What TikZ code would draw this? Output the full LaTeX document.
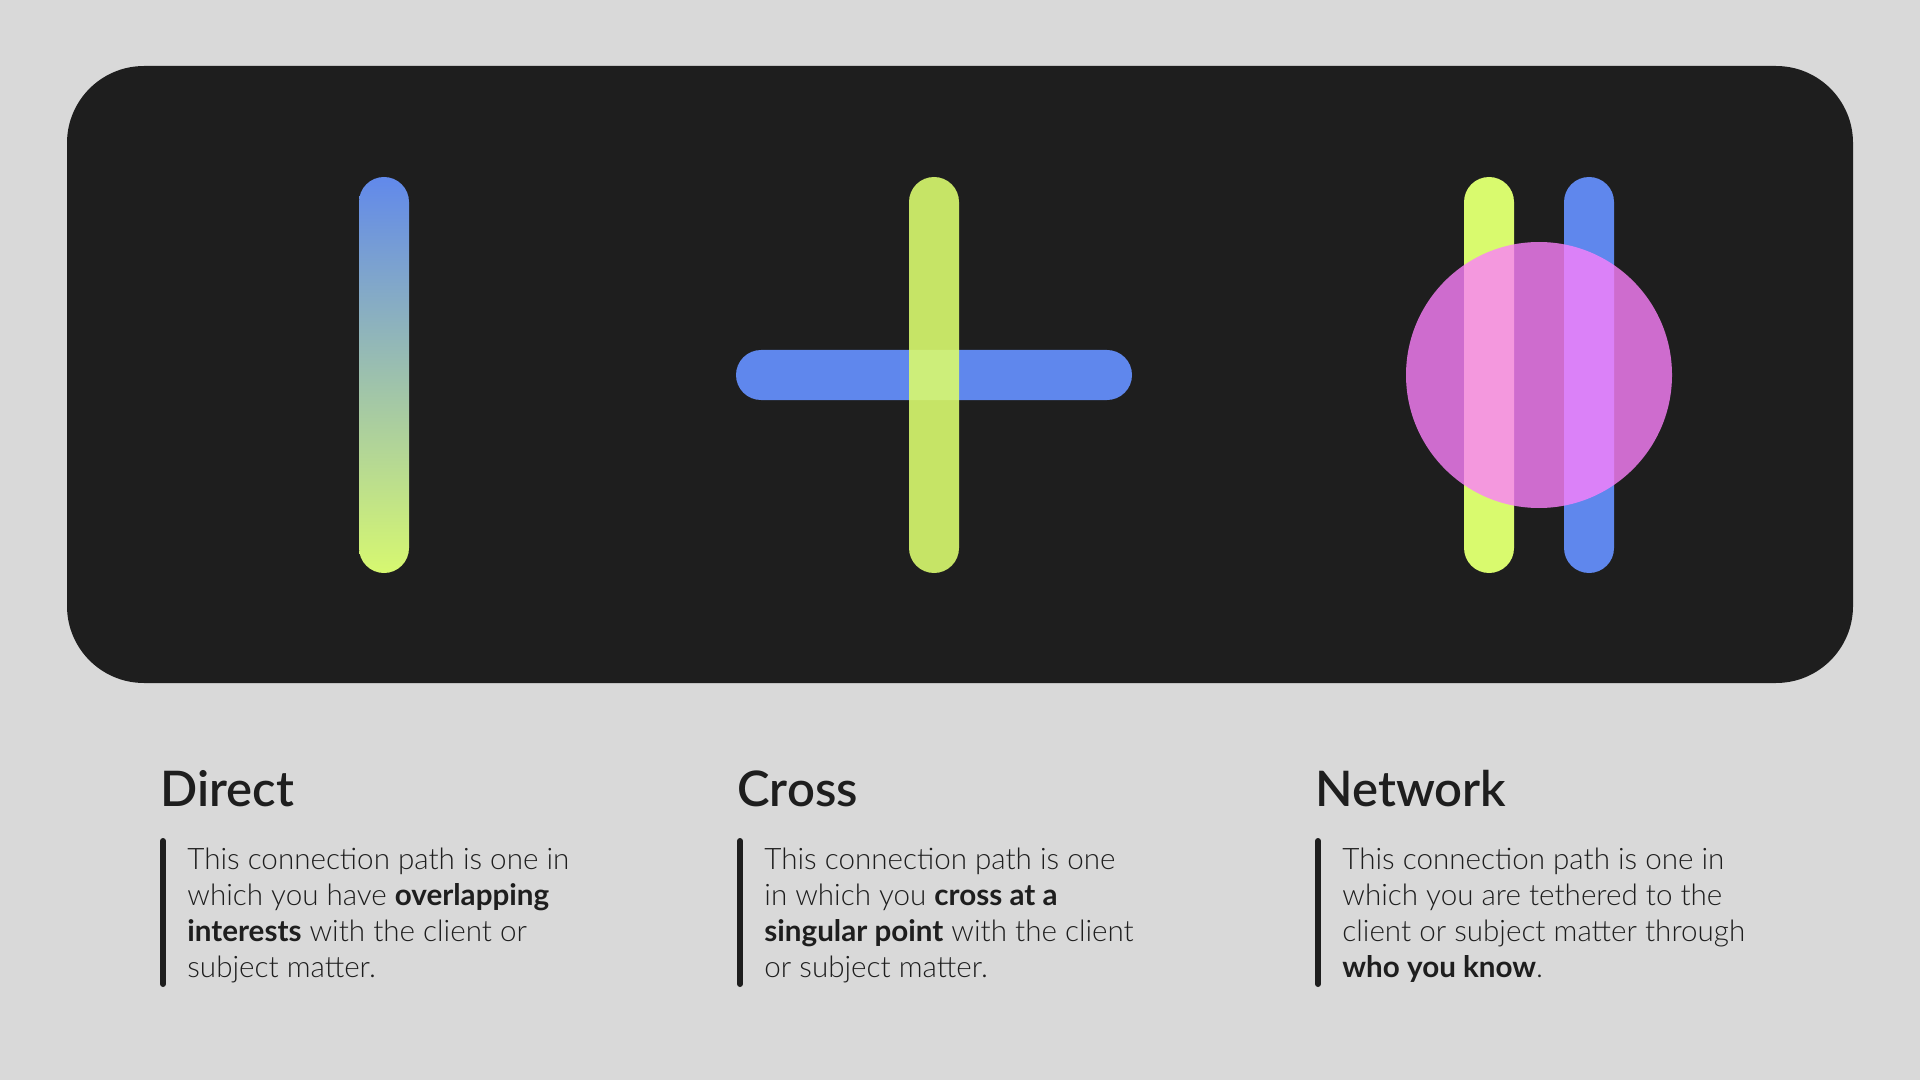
\documentclass[tikz,border=0pt]{standalone}
\usepackage{fontspec}
\setmainfont{Lato Light}[BoldFont={Lato Bold}]
\newfontfamily\headfont{Lato Semibold}
\usepackage{xcolor}
\definecolor{paper}{HTML}{D9D9D9}
\definecolor{panel}{HTML}{1E1E1E}
\definecolor{ink}{HTML}{1E1E1E}
\definecolor{lime}{HTML}{D9FA6E}
\definecolor{azure}{HTML}{5F87ED}
\definecolor{orchid}{HTML}{FB80FB}
\newcommand{\pathbar}[5] {
    \fill[bar,#5] ({#1}, {#2}) rectangle ({#3}, {#4});
}
\newcommand{\pathcol}[3] {
    \node[head,anchor=base west] (#2-head) at ({#1-2}, 806) {#2};
    \draw[rule] ({#1+1}, 841) -- ({#1+1}, 984);
    \node[blurb,anchor=base west] (#2-text) at ({#1+25}, 977) {#3};
}
\tikzset{
    bar/.style={rounded corners=12.5pt},
    head/.style={font=\headfont\fontsize{24.5pt}{27pt}\selectfont,text=ink,inner sep=0pt},
    blurb/.style={font=\fontsize{14.8pt}{18pt}\selectfont,text=ink,inner sep=0pt,align=left},
    rule/.style={draw=ink,line width=3pt,line cap=round}
}
\begin{document}
\begin{tikzpicture}[x=0.5pt,y=-0.5pt]
        \fill[paper] (0,0) rectangle (1920,1080);
        \useasboundingbox (0,0) rectangle (1920,1080);
        \fill[panel,rounded corners=38.5pt] (67,66) rectangle (1853,683);
        % direct
        \begin{scope}
            \clip[bar] (359,177) rectangle (409,573);
            \shade[top color=azure,bottom color=lime] (355,170) rectangle (413,580);
        \end{scope}
        % cross
        \pathbar{736}{350}{1132}{400}{azure}
        \pathbar{909}{177}{959}{573}{lime,fill opacity=0.9}
        % network
        \pathbar{1464}{177}{1514}{573}{lime}
        \pathbar{1564}{177}{1614}{573}{azure}
        \fill[orchid,fill opacity=0.8] (1539,375) circle (133);
        % captions
        \pathcol{162}{Direct}{This connection path is one in\\which you have \textbf{overlapping}\\\textbf{interests} with the client or\\subject matter.}
        \pathcol{739}{Cross}{This connection path is one\\in which you \textbf{cross at a}\\\textbf{singular point} with the client\\or subject matter.}
        \pathcol{1317}{Network}{This connection path is one in\\which you are tethered to the\\client or subject matter through\\\textbf{who you know}.}
    \end{tikzpicture}
\end{document}
